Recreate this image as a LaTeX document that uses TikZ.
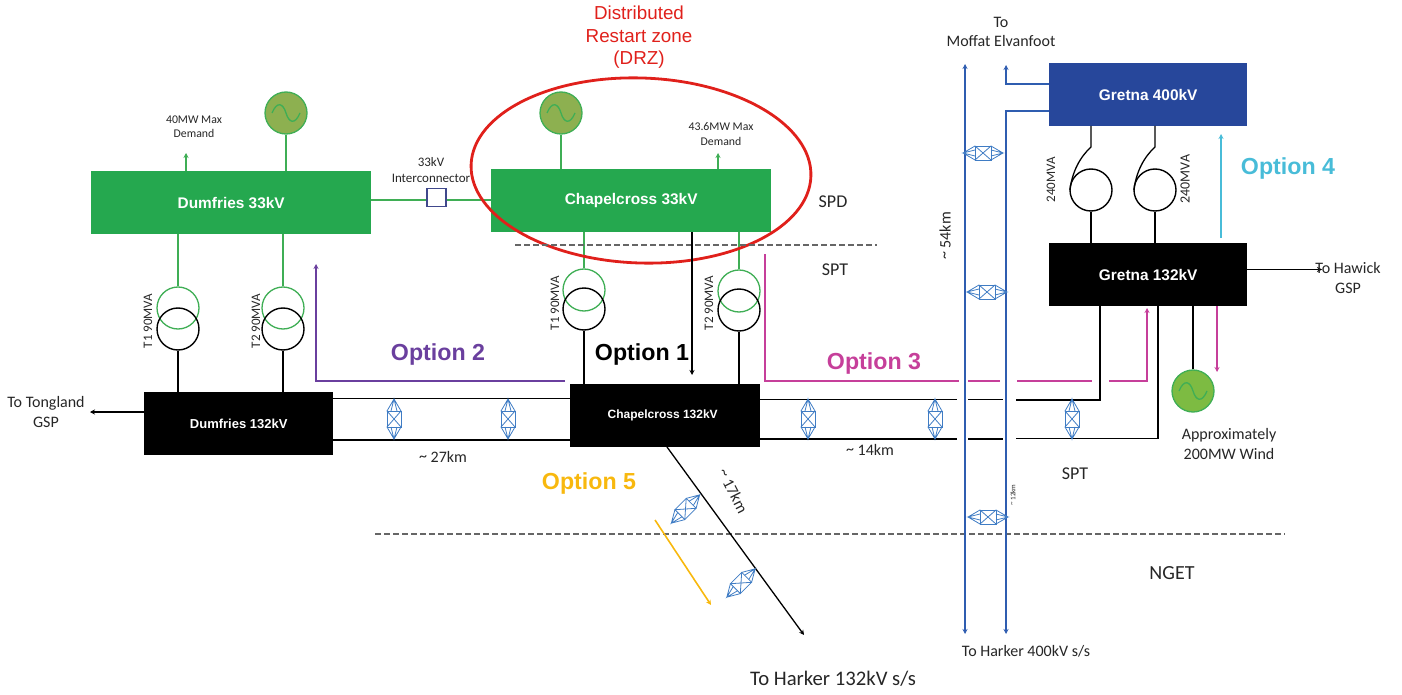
\documentclass[tikz,border=0pt]{standalone}
\usepackage{fontspec}
\setmainfont{Carlito}
\newfontfamily\hv{Liberation Sans}
\usetikzlibrary{arrows.meta,shapes.geometric}
\definecolor{bgreen}{HTML}{25A84F}
\definecolor{lgreen}{HTML}{3FAE55}
\definecolor{gfill}{HTML}{8DB050}
\definecolor{wfill}{HTML}{7DBB42}
\definecolor{nblue}{HTML}{27479B}
\definecolor{lineblue}{HTML}{2F5DB0}
\definecolor{brkblue}{HTML}{3F7CC4}
\definecolor{magent}{HTML}{C63F9A}
\definecolor{purp}{HTML}{6A3F9E}
\definecolor{cyanopt}{HTML}{48BCD8}
\definecolor{yellopt}{HTML}{F8B80E}
\definecolor{drz}{HTML}{E0201B}
\definecolor{icblue}{HTML}{40488C}
\newcommand{\fsz}[1]{\fontsize{#1pt}{1.2\dimexpr #1pt\relax}\selectfont}
\newcommand{\tld}{\raisebox{1.5pt}{\textasciitilde}}
\tikzset{
  x=1pt,y=-1pt,
  tipsmall/.style={-{Stealth[length=5pt,width=5pt]}},
  busbox/.style={draw=none,inner sep=0pt,font=\hv\bfseries\fsz{15.4},text=white,anchor=north west},
  gbox/.style={busbox,fill=bgreen},
  kbox/.style={busbox,fill=black},
  bbox/.style={busbox,fill=nblue},
  gencirc/.style={circle,draw=lgreen,line width=1.3pt,fill=gfill,minimum size=42pt,inner sep=0pt},
  grcirc/.style={circle,draw=lgreen,line width=1.3pt,minimum size=42pt,inner sep=0pt},
  kcirc/.style={circle,draw=black,line width=1.4pt,minimum size=42pt,inner sep=0pt},
  gline/.style={draw=lgreen,line width=1.3pt},
  kline/.style={draw=black,line width=1.3pt},
  bline/.style={draw=lineblue,line width=1.3pt},
  optline/.style={line width=1.6pt},
  lab/.style={inner sep=0pt,align=center,text=black!85,font=\fsz{13}},
  smalllab/.style={inner sep=0pt,align=center,text=black!85,font=\fsz{11.8}},
  opt/.style={inner sep=0pt,font=\hv\bfseries\fsz{23.2}},
  dashln/.style={black!60,line width=1.1pt,dash pattern=on 6pt off 3pt},
  sine/.pic={\draw[pic actions,line width=1.3pt] (-14,0) .. controls (-9,-12) and (-3,-10) .. (0,0) .. controls (3,10) and (9,12) .. (14,0);},
  brk/.pic={
    \draw[brkblue,line width=.8pt,fill=white] (-7,-8) rectangle (7,8);
    \draw[brkblue,line width=.8pt] (-7,-8) -- (7,8) (7,-8) -- (-7,8)
      (-7,-8) -- (0,-20) -- (7,-8) (-3,-8) -- (0,-20) -- (3,-8)
      (-7,8) -- (0,20) -- (7,8) (-3,8) -- (0,20) -- (3,8);
  },
}
\begin{document}
\begin{tikzpicture}
\useasboundingbox (0,0) rectangle (1402,695);
% boxes
\node[gbox,minimum width=280pt,minimum height=63pt] (d33) at (91,171) {Dumfries 33kV};
\node[gbox,minimum width=280pt,minimum height=63pt] (c33) at (491,169) {Chapelcross 33kV};
\node[kbox,minimum width=189pt,minimum height=63pt,font=\hv\bfseries\fsz{13}] (d132) at (144,392) {Dumfries 132kV};
\node[kbox,minimum width=190pt,minimum height=63pt,font=\hv\bfseries\fsz{12}] (c132) at (570,384) {\hspace*{-5pt}Chapelcross 132kV};
\node[bbox,minimum width=198pt,minimum height=63pt] (g400) at (1049,63) {Gretna 400kV};
\node[kbox,minimum width=198pt,minimum height=63pt] (g132) at (1049,243) {Gretna 132kV};
% generators
\node[gencirc] (gd) at (286,113) {};
\node[gencirc] (gc) at (561,113) {};
\node[gencirc,fill=wfill] (gw) at (1193,391) {};
\foreach \n in {gd,gc,gw} \pic[lgreen] at (\n) {sine};
% transformers
\node[grcirc] (t1dg) at (178,308) {};
\node[kcirc] (t1dk) at (178,329) {};
\node[grcirc] (t2dg) at (283,308) {};
\node[kcirc] (t2dk) at (283,329) {};
\node[grcirc] (t1cg) at (584,290) {};
\node[kcirc] (t1ck) at (584,309) {};
\node[grcirc] (t2cg) at (739,291) {};
\node[kcirc] (t2ck) at (739,310) {};
\node[kcirc] (t1g) at (1091,190) {};
\node[kcirc] (t2g) at (1155,190) {};
% green connectors
\draw[gline] (gd) -- (gd |- d33.north);
\draw[gline] (gc) -- (gc |- c33.north);
\draw[gline] (t1dg.north) -- (t1dg |- d33.south);
\draw[gline] (t2dg.north) -- (t2dg |- d33.south);
\draw[gline] (t1cg.north) -- (t1cg |- c33.south);
\draw[gline] (t2cg.north) -- (t2cg |- c33.south);
\coordinate (dd) at (186,153);
\coordinate (cd) at (718,153);
\draw[gline,tipsmall] (dd |- d33.north) -- (dd);
\draw[gline,tipsmall] (cd |- c33.north) -- (cd);
% interconnector
\node[draw=icblue,line width=1.2pt,fill=white,minimum width=19pt,minimum height=18pt,inner sep=0pt] (ic) at (436.5,197.5) {};
\coordinate (icl) at (0,200);
\draw[gline] (d33.east |- icl) -- (ic.west |- icl);
\draw[gline] (ic.east |- icl) -- (c33.west |- icl);
% black transformer connectors
\draw[kline] (t1dk.south) -- (t1dk |- d132.north);
\draw[kline] (t2dk.south) -- (t2dk |- d132.north);
\draw[kline] (t1ck.south) -- (t1ck |- c132.north);
\draw[kline] (t2ck.south) -- (t2ck |- c132.north);
% DRZ
\node[draw=drz,line width=2.8pt,ellipse,rotate=-2,minimum width=340pt,minimum height=185pt,inner sep=0pt] (ez) at (641,170.5) {};
% dashed
\coordinate (da) at (515,245); \coordinate (db) at (877,245);
\coordinate (dc) at (375,534); \coordinate (dd2) at (1285,534);
\draw[dashln] (da) -- (db);
\draw[dashln] (dc) -- (dd2);
% 132 kV lines
\coordinate (y1) at (0,398.5); \coordinate (y2) at (0,440);
\coordinate (y3) at (0,399.5); \coordinate (y4) at (0,439);
\draw[kline] (d132.east |- y1) -- (c132.west |- y1);
\draw[kline] (d132.east |- y2) -- (c132.west |- y2);
\draw[kline] (c132.east |- y3) -- (957,399.5) (968,399.5) -- (1003,399.5);
\draw[kline] (1016,400) -- (1100,400) -- (1100,306);
\draw[kline] (c132.east |- y4) -- (957,439) (968,439) -- (1003,439);
\draw[kline] (1016,438.5) -- (1158,438.5) -- (1158,306);
\draw[kline] (gw) -- (gw |- g132.south);
\coordinate (tt) at (90,412);
\draw[kline,tipsmall] (d132.west |- tt) -- (tt);
\coordinate (th) at (1322,269.5);
\draw[kline,tipsmall] (g132.east |- th) -- (th);
\coordinate (hk) at (804,635);
\draw[kline,tipsmall] (667,447) -- (hk);
% Gretna transformers
\draw[kline] (1091,126) -- (1091,147) .. controls (1080,157) and (1072,172) .. (1070,190);
\draw[kline] (1155,126) -- (1155,147) .. controls (1144,157) and (1136,172) .. (1134,190);
\draw[kline] (t1g.south) -- (t1g |- g132.north);
\draw[kline] (t2g.south) -- (t2g |- g132.north);
% 400 kV lines
\draw[bline,{Stealth[length=5pt,width=5pt]}-{Stealth[length=5pt,width=5pt]}] (965,64) -- (965,634);
\draw[bline,tipsmall] (g400.west |- 0,84) -- (1006,84) -- (1006,65);
\draw[bline,tipsmall] (g400.west |- 0,111) -- (1006,111) -- (1006,634);
% breakers
\foreach \p in {(394,419),(508,419),(808,419),(935,419),(1072,419)} \pic at \p {brk};
\foreach \p in {(983,153),(987,292),(988,517)} \pic[rotate=90] at \p {brk};
\foreach \p in {(685.5,509),(741,583)} \pic[rotate=-45] at \p {brk};
% options
\draw[purp,optline,tipsmall] (565,381) -- (316,381) -- (316,264);
\draw[black,optline,tipsmall] (692,232) -- (692,375);
\draw[magent,optline] (765,254) -- (765,381) -- (959,381);
\draw[magent,optline] (968,381) -- (1000,381) (1017,381) -- (1092,381);
\draw[magent,optline,tipsmall] (1109,381) -- (1147,381) -- (1147,308);
\draw[magent,optline,tipsmall] (1217,306) -- (1217,372);
\draw[cyanopt,optline,tipsmall] (1221,238) -- (1221,134);
\draw[yellopt,optline,tipsmall] (655,520) -- (711,605);
\node[opt,text=purp] (o2) at (438,354) {Option 2};
\node[opt,text=black] (o1) at (642,354) {Option 1};
\node[opt,text=magent] (o3) at (874,363) {Option 3};
\node[opt,text=cyanopt] (o4) at (1288,169) {Option 4};
\node[opt,text=yellopt] (o5) at (589,483) {Option 5};
% labels
\node[inner sep=0pt,align=center,text=drz,font=\hv\fsz{18.8}] (ltitle) at (639,37.5) {Distributed\\Restart zone\\(DRZ)};
\node[smalllab] (l1) at (194,127) {40MW Max\\Demand};
\node[smalllab] (l2) at (721,134) {43.6MW Max\\Demand};
\node[lab] (l3) at (431,170) {33kV\\Interconnector};
\node[lab,font=\fsz{18}] (l4) at (833,202) {SPD};
\node[lab,font=\fsz{18}] (l5) at (835,270) {SPT};
\node[lab,rotate=90] (l6) at (148,321) {T1 90MVA};
\node[lab,rotate=90] (l7) at (256,321) {T2 90MVA};
\node[lab,rotate=90] (l8) at (555,303) {T1 90MVA};
\node[lab,rotate=90] (l9) at (709,303) {T2 90MVA};
\node[lab,font=\fsz{16}] (l10) at (46,412) {To Tongland\\GSP};
\node[lab,font=\fsz{16}] (l11) at (443,457) {\tld{} 27km};
\node[lab,font=\fsz{16}] (l12) at (870,450) {\tld{} 14km};
\node[lab,font=\fsz{16},rotate=-63] (l13) at (733,491) {\tld{} 17km};
\node[lab,font=\fsz{16},rotate=90] (l14) at (945,236) {\tld{} 54km};
\node[lab,font=\fsz{7},rotate=90] (l15) at (1013,495) {\tld{} 12km};
\node[lab,rotate=90,font=\fsz{13}] (l16) at (1051,180) {240MVA};
\node[lab,rotate=90,font=\fsz{14}] (l17) at (1185,179) {240MVA};
\node[lab,font=\fsz{16}] (l18) at (1001,32) {To\\Moffat Elvanfoot};
\node[lab,font=\fsz{16}] (l19) at (1026,651) {To Harker 400kV s/s};
\node[lab,font=\fsz{20.7}] (l20) at (833,679) {To Harker 132kV s/s};
\node[lab,font=\fsz{16}] (l21) at (1229,444) {Approximately\\200MW Wind};
\node[lab,font=\fsz{18}] (l22) at (1075,474) {SPT};
\node[lab,font=\fsz{20}] (l23) at (1172,573) {NGET};
\node[lab,font=\fsz{16}] (l24) at (1348,278) {To Hawick\\GSP};
\end{tikzpicture}
\end{document}
